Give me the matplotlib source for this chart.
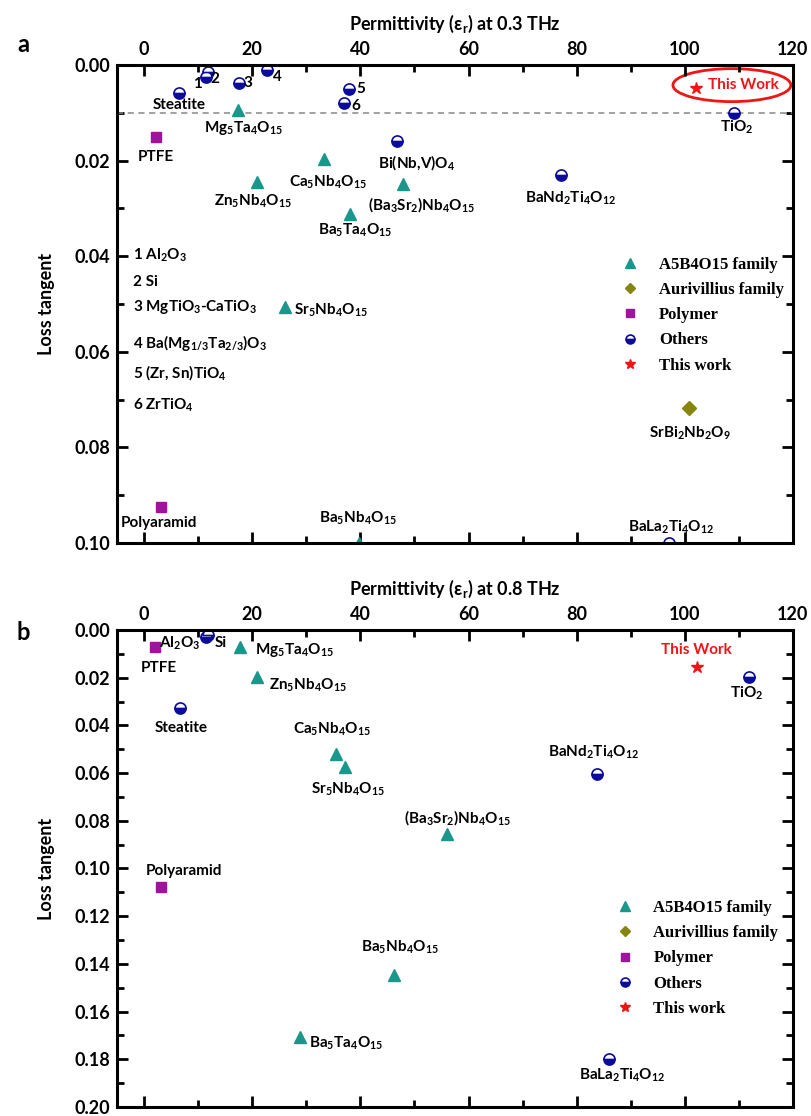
import matplotlib
matplotlib.use('Agg')
import matplotlib.pyplot as plt
from matplotlib.patches import Ellipse
from matplotlib.ticker import MultipleLocator

plt.rcParams['font.family'] = ['Lato', 'DejaVu Sans']
plt.rcParams['font.weight'] = 'bold'
plt.rcParams['axes.labelweight'] = 'bold'
plt.rcParams['mathtext.default'] = 'regular'

# ---- panel a : 0.3 THz ----
a_a5b4_names = ['Mg$_5$Ta$_4$O$_{15}$', 'Ca$_5$Nb$_4$O$_{15}$', 'Zn$_5$Nb$_4$O$_{15}$',
                '(Ba$_3$Sr$_2$)Nb$_4$O$_{15}$', 'Ba$_5$Ta$_4$O$_{15}$', 'Sr$_5$Nb$_4$O$_{15}$',
                'Ba$_5$Nb$_4$O$_{15}$']
a_a5b4_eps = [17.3, 33.2, 20.8, 47.9, 38.0, 26.0, 39.7]
a_a5b4_tan = [0.0094, 0.0197, 0.0244, 0.0248, 0.0312, 0.0506, 0.100]

a_auri_names = ['SrBi$_2$Nb$_2$O$_9$']
a_auri_eps = [100.7]
a_auri_tan = [0.0718]

a_poly_names = ['PTFE', 'Polyaramid']
a_poly_eps = [2.2, 3.1]
a_poly_tan = [0.0151, 0.0925]

a_other_names = ['Steatite', '1', '2', '3', '4', '5', '6', 'Bi(Nb,V)O$_4$',
                 'BaNd$_2$Ti$_4$O$_{12}$', 'TiO$_2$', 'BaLa$_2$Ti$_4$O$_{12}$']
a_other_eps = [6.5, 11.4, 11.8, 17.6, 22.8, 37.9, 36.9, 46.8, 77.1, 109.0, 97.0]
a_other_tan = [0.0059, 0.0025, 0.0015, 0.0038, 0.0011, 0.0051, 0.0080, 0.0158, 0.0230, 0.0100, 0.100]

a_this_eps = [102.0]
a_this_tan = [0.0049]

a_key = ['1 Al$_2$O$_3$', '2 Si', '3 MgTiO$_3$-CaTiO$_3$', '4 Ba(Mg$_{1/3}$Ta$_{2/3}$)O$_3$',
         '5 (Zr, Sn)TiO$_4$', '6 ZrTiO$_4$']

# ---- panel b : 0.8 THz ----
b_a5b4_names = ['Mg$_5$Ta$_4$O$_{15}$', 'Zn$_5$Nb$_4$O$_{15}$', 'Ca$_5$Nb$_4$O$_{15}$',
                'Sr$_5$Nb$_4$O$_{15}$', '(Ba$_3$Sr$_2$)Nb$_4$O$_{15}$', 'Ba$_5$Nb$_4$O$_{15}$',
                'Ba$_5$Ta$_4$O$_{15}$']
b_a5b4_eps = [17.8, 20.8, 35.5, 37.2, 56.0, 46.3, 28.8]
b_a5b4_tan = [0.0071, 0.0197, 0.0519, 0.0573, 0.0855, 0.1446, 0.1707]

b_auri_names = []
b_auri_eps = []
b_auri_tan = []

b_poly_names = ['PTFE', 'Polyaramid']
b_poly_eps = [2.0, 3.1]
b_poly_tan = [0.0071, 0.1077]

b_other_names = ['Al$_2$O$_3$', 'Si', 'Steatite', 'BaNd$_2$Ti$_4$O$_{12}$', 'TiO$_2$',
                 'BaLa$_2$Ti$_4$O$_{12}$']
b_other_eps = [11.5, 11.8, 6.6, 83.7, 111.8, 86.0]
b_other_tan = [0.0030, 0.0020, 0.0327, 0.0604, 0.0197, 0.1799]

b_this_eps = [102.2]
b_this_tan = [0.0155]

# label offsets in pixels (dx, dy, ha)
a_offsets = {
    'Mg$_5$Ta$_4$O$_{15}$': (6, -18, 'center'), 'Ca$_5$Nb$_4$O$_{15}$': (4, -23, 'center'),
    'Zn$_5$Nb$_4$O$_{15}$': (-4, -20, 'center'), '(Ba$_3$Sr$_2$)Nb$_4$O$_{15}$': (18, -21, 'center'),
    'Ba$_5$Ta$_4$O$_{15}$': (6, -16, 'center'), 'Sr$_5$Nb$_4$O$_{15}$': (9, -3, 'left'),
    'Ba$_5$Nb$_4$O$_{15}$': (-1, 25, 'center'), 'SrBi$_2$Nb$_2$O$_9$': (1, -25, 'center'),
    'PTFE': (0, -20, 'center'), 'Polyaramid': (-2, -16, 'center'),
    'Steatite': (0, -12, 'center'), '1': (-8, -7, 'center'), '2': (7, -7, 'center'),
    '3': (9, 0, 'center'), '4': (10, -7, 'center'), '5': (12, 0, 'center'), '6': (12, -3, 'center'),
    'Bi(Nb,V)O$_4$': (19, -22, 'center'), 'BaNd$_2$Ti$_4$O$_{12}$': (10, -23, 'center'),
    'TiO$_2$': (3, -14, 'center'), 'BaLa$_2$Ti$_4$O$_{12}$': (3, 16, 'center'),
}
b_offsets = {
    'Mg$_5$Ta$_4$O$_{15}$': (15, -3, 'left'), 'Zn$_5$Nb$_4$O$_{15}$': (12, -8, 'left'),
    'Ca$_5$Nb$_4$O$_{15}$': (-4, 24, 'center'), 'Sr$_5$Nb$_4$O$_{15}$': (3, -23, 'center'),
    '(Ba$_3$Sr$_2$)Nb$_4$O$_{15}$': (11, 16, 'center'), 'Ba$_5$Nb$_4$O$_{15}$': (6, 28, 'center'),
    'Ba$_5$Ta$_4$O$_{15}$': (9, -6, 'left'),
    'PTFE': (4, -21, 'center'), 'Polyaramid': (23, 16, 'center'),
    'Al$_2$O$_3$': (-27, -6, 'center'), 'Si': (13, -8, 'center'), 'Steatite': (1, -20, 'center'),
    'BaNd$_2$Ti$_4$O$_{12}$': (-3, 22, 'center'), 'TiO$_2$': (-2, -16, 'center'),
    'BaLa$_2$Ti$_4$O$_{12}$': (13, -16, 'center'),
}

TEAL = '#1b968c'
OLIVE = '#85850f'
MAGENTA = '#a0139c'
NAVY = '#0b0b9c'
RED = '#f01414'


def draw_points(ax, tri, dia, sq, circ, star, offsets):
    ax.plot(tri[1], tri[2], ls='none', marker='^', ms=9, color=TEAL, label='A5B4O15 family')
    ax.plot(dia[1], dia[2], ls='none', marker='D', ms=7, color=OLIVE, label='Aurivillius family')
    ax.plot(sq[1], sq[2], ls='none', marker='s', ms=7, color=MAGENTA, label='Polymer')
    ax.plot(circ[1], circ[2], ls='none', marker='o', ms=8, fillstyle='bottom', color=NAVY,
            markerfacecoloralt='white', markeredgecolor=NAVY, markeredgewidth=1.2, label='Others')
    ax.plot(star[0], star[1], ls='none', marker='*', ms=9, color=RED, label='This work')
    for group in (tri, dia, sq, circ):
        for name, x, y in zip(*group):
            dx, dy, ha = offsets[name]
            ax.annotate(name, (x, y), xytext=(dx, dy), textcoords='offset pixels',
                        ha=ha, va='center', fontsize=11, annotation_clip=False)


def style_axes(ax, ymax, freq, anchor):
    ax.set_xlim(-5, 120)
    ax.set_ylim(ymax, 0)
    ax.xaxis.set_major_locator(MultipleLocator(20))
    ax.xaxis.set_minor_locator(MultipleLocator(10))
    ax.yaxis.set_major_locator(MultipleLocator(0.02))
    ax.yaxis.set_minor_locator(MultipleLocator(0.01))
    ax.yaxis.set_major_formatter(matplotlib.ticker.FormatStrFormatter('%.2f'))
    ax.tick_params(which='both', direction='in', top=True, right=True, labeltop=True,
                   labelbottom=False, width=2, labelsize=13, pad=5)
    ax.tick_params(which='major', length=8)
    ax.tick_params(which='minor', length=5)
    for s in ax.spines.values():
        s.set_linewidth(2.2)
    ax.xaxis.set_label_position('top')
    ax.set_xlabel('Permittivity (ε$_r$) at %s THz' % freq, fontsize=13, labelpad=8)
    ax.set_ylabel('Loss tangent', fontsize=13, labelpad=14)
    ax.legend(loc='upper left', frameon=False, prop={'family': 'Liberation Serif', 'weight': 'bold', 'size': 12},
              handlelength=1, handletextpad=1.2, labelspacing=0.55, markerscale=0.8,
              bbox_to_anchor=anchor)


fig = plt.figure(figsize=(8.11, 11.16), dpi=100)
ax1 = fig.add_axes([0.1443, 0.5134, 0.8335, 0.4283])
ax2 = fig.add_axes([0.1443, 0.0081, 0.8335, 0.4274])

# panel a
ax1.axhline(0.01, ls='--', color='#888888', lw=1.1, dashes=(4, 3))
draw_points(ax1, (a_a5b4_names, a_a5b4_eps, a_a5b4_tan), (a_auri_names, a_auri_eps, a_auri_tan),
            (a_poly_names, a_poly_eps, a_poly_tan), (a_other_names, a_other_eps, a_other_tan),
            (a_this_eps, a_this_tan), a_offsets)
ax1.annotate('This Work', (a_this_eps[0], a_this_tan[0]), xytext=(12, 3), textcoords='offset pixels',
             ha='left', va='center', fontsize=11, color=RED)
ax1.add_patch(Ellipse((108.7, 0.0042), 21.8, 0.0069, fill=False, ec=RED, lw=2, clip_on=False))
key_y = [0.602, 0.546, 0.494, 0.418, 0.356, 0.289]
for txt, ky in zip(a_key, key_y):
    ax1.text(0.024, ky, txt, transform=ax1.transAxes, ha='left', va='center', fontsize=11)
style_axes(ax1, 0.10, '0.3', (0.725, 0.63))
fig.text(0.022, 0.960, 'a', fontsize=17, fontweight='bold', va='center')

# panel b
draw_points(ax2, (b_a5b4_names, b_a5b4_eps, b_a5b4_tan), (b_auri_names, b_auri_eps, b_auri_tan),
            (b_poly_names, b_poly_eps, b_poly_tan), (b_other_names, b_other_eps, b_other_tan),
            (b_this_eps, b_this_tan), b_offsets)
ax2.annotate('This Work', (b_this_eps[0], b_this_tan[0]), xytext=(0, 17), textcoords='offset pixels',
             ha='center', va='center', fontsize=11, color=RED)
style_axes(ax2, 0.20, '0.8', (0.717, 0.465))
fig.text(0.020, 1 - 632 / 1116, 'b', fontsize=17, fontweight='bold', va='center')

fig.savefig('out.png', dpi=100)
